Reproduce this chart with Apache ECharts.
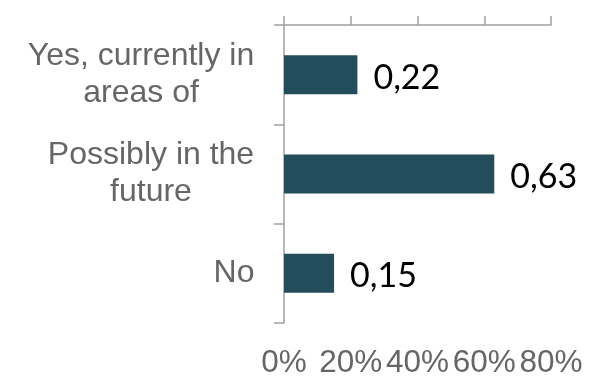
<!DOCTYPE html>
<html>
<head>
<meta charset="utf-8">
<script src="https://cdn.jsdelivr.net/npm/echarts@6/dist/echarts.min.js"></script>
<style>
  html, body { margin: 0; padding: 0; background: #ffffff; }
  #chart { width: 598px; height: 379px; }
</style>
</head>
<body>
<div id="chart"></div>
<script>
const categories = ['Yes, currently in\nareas of', 'Possibly in the\nfuture', 'No'];
const values = [0.22, 0.63, 0.15];
const valueLabels = ['0,22', '0,63', '0,15'];
const tickValues = [0, 0.2, 0.4, 0.6, 0.8];
const tickLabels = ['0%', '20%', '40%', '60%', '80%'];

const catFont = '32px "Liberation Sans"';
const canvas = document.createElement('canvas');
const ctx = canvas.getContext('2d');
ctx.font = catFont;
const rich = {};
categories.forEach(function (c, i) {
  const w = Math.max.apply(null, c.split('\n').map(function (l) { return ctx.measureText(l).width; }));
  rich['c' + i] = {
    width: Math.ceil(w) + 1,
    align: 'center',
    fontFamily: 'Liberation Sans',
    fontSize: 32,
    lineHeight: 37,
    color: '#666666'
  };
});

const chart = echarts.init(document.getElementById('chart'), null, { renderer: 'canvas' });
const axisGrey = '#a0a0a0';
chart.setOption({
  animation: false,
  backgroundColor: '#ffffff',
  grid: { left: 284, right: 47, top: 25, bottom: 56, containLabel: false },
  xAxis: [
    {
      type: 'value', position: 'top', min: 0, max: 0.8, interval: 0.2,
      axisLine: { show: true, lineStyle: { color: axisGrey, width: 1.5 } },
      axisTick: { show: true, inside: false, length: 9, lineStyle: { color: axisGrey, width: 1.5 } },
      axisLabel: { show: false },
      splitLine: { show: false }
    },
    {
      type: 'value', position: 'bottom', min: 0, max: 0.8, interval: 0.2,
      axisLine: { show: false },
      axisTick: { show: false },
      splitLine: { show: false },
      axisLabel: {
        show: true, margin: 24,
        fontFamily: 'Liberation Sans', fontSize: 31.5, color: '#666666',
        formatter: function (v) {
          const i = tickValues.findIndex(function (t) { return Math.abs(t - v) < 1e-9; });
          return i >= 0 ? tickLabels[i] : '';
        }
      }
    }
  ],
  yAxis: {
    type: 'category', inverse: true, data: categories,
    axisLine: { show: true, lineStyle: { color: axisGrey, width: 1.5 } },
    axisTick: { show: true, length: 10, lineStyle: { color: axisGrey, width: 1.5 } },
    axisLabel: {
      margin: 29,
      formatter: function (value, index) {
        return value.split('\n').map(function (l) { return '{c' + index + '|' + l + '}'; }).join('\n');
      },
      rich: rich
    },
    splitLine: { show: false }
  },
  series: [{
    type: 'bar', xAxisIndex: 0,
    data: values,
    barWidth: 39,
    itemStyle: { color: '#234d5b' },
    label: {
      show: true, position: 'right', distance: 16,
      fontFamily: 'Lato', fontSize: 34, color: '#000000',
      offset: [0, 3],
      formatter: function (p) { return valueLabels[p.dataIndex]; }
    }
  }]
});
</script>
</body>
</html>
